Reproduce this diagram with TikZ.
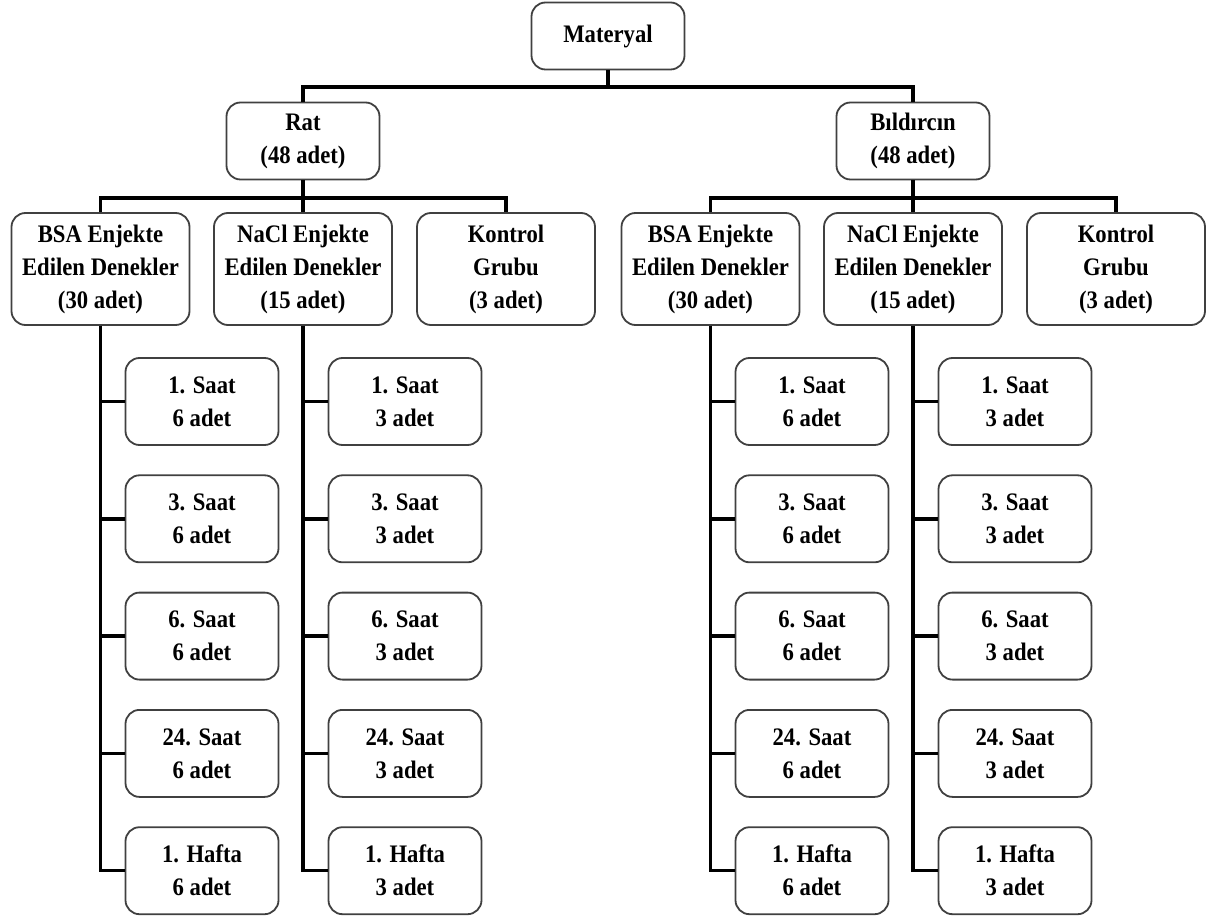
\documentclass[tikz,border=0pt]{standalone}
\usepackage{fontspec}
\setmainfont{Liberation Serif}[FakeStretch=0.9]

\def\sidesep{610}
\def\rowsep{117.3}

\begin{document}
\begin{tikzpicture}[x=0.5pt,y=-0.5pt,line width=1.7pt,font=\fontsize{12.6}{16.5}\selectfont\bfseries]
    \tikzstyle{box}=[draw=black!75,line width=0.9pt,rounded corners=7pt,fill=white,align=center,inner sep=2pt]
    \tikzstyle{root}=[box,minimum width=76.5pt,minimum height=33.5pt]
    \tikzstyle{animal}=[box,minimum width=76.5pt,minimum height=38.5pt]
    \tikzstyle{group}=[box,minimum width=89pt,minimum height=56pt]
    \tikzstyle{period}=[box,minimum width=76.5pt,minimum height=43.5pt]

    \useasboundingbox (0,0) rectangle (1210,919);

    \node[root] (M) at (608,36) {Materyal};
    \node[animal] (A-1) at (303,141) {Rat\\(48 adet)};
    \node[animal] (A-2) at (913,141) {Bıldırcın\\(48 adet)};

    \foreach \a in {1,2}
        \draw (M.south) -- ++(0,16.5) -| (A-\a.north);

    \foreach \a / \x in {1/0,2/\sidesep} {
        \node[group] (G-\a-1) at (100.5+\x,269) {BSA Enjekte\\Edilen Denekler\\(30 adet)};
        \node[group] (G-\a-2) at (303+\x,269) {NaCl Enjekte\\Edilen Denekler\\(15 adet)};
        \node[group] (G-\a-3) at (506+\x,269) {Kontrol\\Grubu\\(3 adet)};

        \foreach \g in {1,2,3}
            \draw (A-\a.south) -- ++(0,17.5) -| (G-\a-\g.north);

        \foreach \g / \gx / \n in {1/202/6, 2/405/3}
            \foreach \t [count=\i] in {1. Saat, 3. Saat, 6. Saat, 24. Saat, 1. Hafta} {
                \node[period] (C-\a-\g-\i) at ({\gx+\x},{284.2+\rowsep*\i}) {\t\\\n\ adet};
                \draw (G-\a-\g.south) |- (C-\a-\g-\i.west);
            }
    }
\end{tikzpicture}
\end{document}
